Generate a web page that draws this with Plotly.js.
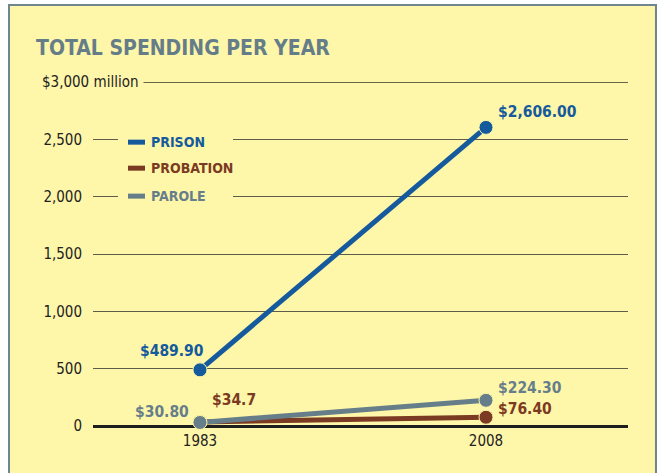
<!DOCTYPE html>
<html>
<head>
<meta charset="utf-8">
<script src="https://cdn.plot.ly/plotly-3.0.1.min.js"></script>
<style>html,body{margin:0;padding:0;background:#fff;}#chart{width:662px;height:473px;}</style>
</head>
<body>
<div id="chart"></div>
<script>
const years = ['1983', '2008'];
const prison = [489.9, 2606.0];
const probation = [34.7, 76.4];
const parole = [30.8, 224.3];
const prisonLabels = ['$489.90', '$2,606.00'];
const probationLabels = ['$34.7', '$76.40'];
const paroleLabels = ['$30.80', '$224.30'];
const yTickVals = [0, 500, 1000, 1500, 2000, 2500, 3000];
const yTickText = ['0', '500', '1,000', '1,500', '2,000', '2,500', ''];
const yMax = 3000;
const seriesNames = ['PRISON', 'PROBATION', 'PAROLE'];

const C_PRISON = '#145a9c';
const C_PROB = '#7b3a22';
const C_PAROLE = '#667e8a';
const YELLOW = '#fef6a9';
const FONT = "'Liberation Sans Narrow', 'DejaVu Sans Condensed', 'Roboto Condensed', sans-serif";

function trace(vals, color, name) {
  return {
    x: years, y: vals, type: 'scatter', mode: 'lines+markers', name: name,
    line: {color: color, width: 5},
    marker: {color: color, size: 14, line: {color: YELLOW, width: 1}},
    cliponaxis: false, hoverinfo: 'skip'
  };
}

const data = [
  trace(prison, C_PRISON, seriesNames[0]),
  trace(probation, C_PROB, seriesNames[1]),
  trace(parole, C_PAROLE, seriesNames[2])
];

function lab(xi, vals, labels, color, xanchor, xshift, yshift) {
  return {
    x: xi, y: vals[xi], xref: 'x', yref: 'y', text: '<b>' + labels[xi] + '</b>',
    showarrow: false, xanchor: xanchor, yanchor: 'middle', xshift: xshift, yshift: yshift,
    font: {family: FONT, size: 15.5, color: color}
  };
}

const annotations = [
  lab(0, prison, prisonLabels, C_PRISON, 'right', 6, 19),
  lab(1, prison, prisonLabels, C_PRISON, 'left', 10, 15),
  lab(0, probation, probationLabels, C_PROB, 'left', 10, 22),
  lab(1, probation, probationLabels, C_PROB, 'left', 10, 8),
  lab(0, parole, paroleLabels, C_PAROLE, 'right', -9, 10),
  lab(1, parole, paroleLabels, C_PAROLE, 'left', 10, 12),
  {x: -0.1065, xref: 'paper', y: yMax, yref: 'y', text: '$3,000 million', showarrow: false,
   xanchor: 'left', yanchor: 'middle', bgcolor: YELLOW, borderpad: 5,
   font: {family: FONT, size: 15, color: '#222'}}
];

const legendY = [2477, 2250, 2006];
const legendColors = [C_PRISON, C_PROB, C_PAROLE];
const shapes = [
  {type: 'rect', xref: 'paper', yref: 'paper', x0: -0.157, x1: 1.0523, y0: -0.3, y1: 1.2238,
   fillcolor: YELLOW, line: {color: '#6f8590', width: 2}, layer: 'below'},
  {type: 'line', xref: 'paper', yref: 'y', x0: 0, x1: 1, y0: yMax, y1: yMax,
   line: {color: '#2e2d25', width: 1}, layer: 'below'},
  {type: 'rect', xref: 'paper', yref: 'y', x0: 0.0467, x1: 0.2617, y0: 1900, y1: 2600,
   fillcolor: YELLOW, line: {width: 0}, layer: 'above'}
];
seriesNames.forEach((n, i) => {
  shapes.push({type: 'line', xref: 'paper', yref: 'y', x0: 0.0654, x1: 0.0972,
    y0: legendY[i], y1: legendY[i], line: {color: legendColors[i], width: 5}, layer: 'above'});
  annotations.push({x: 0.1047, xref: 'paper', y: legendY[i], yref: 'y', text: '<b>' + n + '</b>',
    showarrow: false, xanchor: 'left', yanchor: 'middle',
    font: {family: FONT, size: 14, color: legendColors[i]}});
});

const layout = {
  width: 662, height: 473,
  margin: {l: 93, r: 34, t: 82, b: 47},
  paper_bgcolor: '#ffffff', plot_bgcolor: 'rgba(0,0,0,0)',
  showlegend: false,
  title: {text: '<b>TOTAL SPENDING PER YEAR</b>', xref: 'container', yref: 'container',
    x: 36/662, xanchor: 'left', y: 1 - 48/473, yanchor: 'middle',
    font: {family: FONT, size: 21, color: '#657d89'}},
  xaxis: {type: 'category', range: [-0.374, 1.4965], showgrid: false, zeroline: false,
    showline: false, ticks: '', ticklabelstandoff: 4,
    tickfont: {family: FONT, size: 15, color: '#222'}, fixedrange: true},
  yaxis: {range: [0, 3002], tickvals: yTickVals, ticktext: yTickText, showgrid: true,
    gridcolor: '#5e5c4a', gridwidth: 1, zeroline: true, zerolinecolor: '#1e1e1e', zerolinewidth: 3,
    showline: false, ticks: '', ticklabelstandoff: 10,
    tickfont: {family: FONT, size: 15, color: '#222'}, fixedrange: true},
  annotations: annotations,
  shapes: shapes
};

Plotly.newPlot('chart', data, layout, {staticPlot: true, displayModeBar: false});
</script>
</body>
</html>
